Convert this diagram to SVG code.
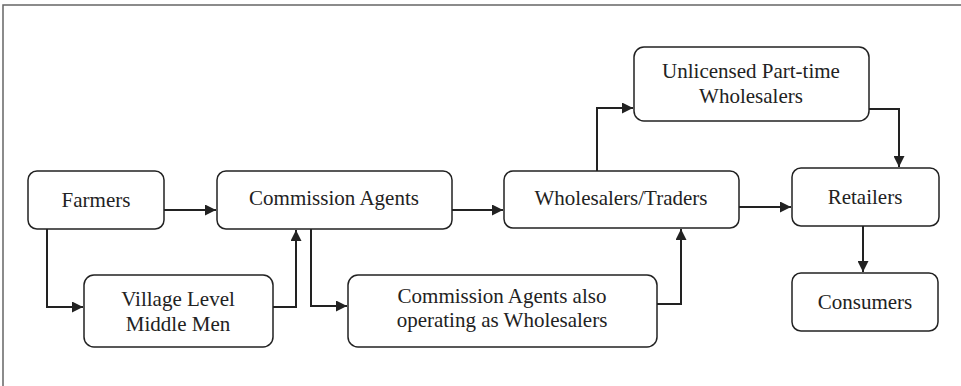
<svg xmlns="http://www.w3.org/2000/svg" width="961" height="386" viewBox="0 0 961 386">
<style>
.box{fill:#fff;stroke:#222;stroke-width:1.5}
.t{font-size:21px;fill:#222;text-anchor:middle}
.c{fill:none;stroke:#222;stroke-width:2}
</style>
<defs>
<marker id="a" viewBox="0 0 10 10" refX="10" refY="5" markerWidth="5.5" markerHeight="5.5" orient="auto" markerUnits="strokeWidth">
<path d="M0,0L10,5L0,10z" fill="#222"/>
</marker>
</defs>
<rect width="961" height="386" fill="#fff"/>
<path d="M3,386V5H961" fill="none" stroke="#666" stroke-width="1.5"/>
<g id="connectors">
<path class="c" d="M164,210H216" marker-end="url(#a)"/>
<path class="c" d="M47,229V307H83" marker-end="url(#a)"/>
<path class="c" d="M273,307H296V230" marker-end="url(#a)"/>
<path class="c" d="M311,229V306H347" marker-end="url(#a)"/>
<path class="c" d="M452,210H503" marker-end="url(#a)"/>
<path class="c" d="M657,304H681V229" marker-end="url(#a)"/>
<path class="c" d="M597,171V108H633" marker-end="url(#a)"/>
<path class="c" d="M869,109H899V167" marker-end="url(#a)"/>
<path class="c" d="M739,207H791" marker-end="url(#a)"/>
<path class="c" d="M863,226V272" marker-end="url(#a)"/>
</g>
<g font-family="Liberation Serif, DejaVu Serif, serif">
<g id="farmers"><rect class="box" x="28" y="171" width="136" height="58" rx="9"/><text class="t" x="96" y="207">Farmers</text></g>
<g id="commission-agents"><rect class="box" x="217" y="171" width="235" height="58" rx="9"/><text class="t" x="334" y="205">Commission Agents</text></g>
<g id="village"><rect class="box" x="84" y="275" width="189" height="72" rx="10"/><text class="t" x="178" y="306">Village Level</text><text class="t" x="178" y="331">Middle Men</text></g>
<g id="ca-also"><rect class="box" x="348" y="275" width="309" height="72" rx="10"/><text class="t" x="502" y="303">Commission Agents also</text><text class="t" x="502" y="327">operating as Wholesalers</text></g>
<g id="wholesalers"><rect class="box" x="504" y="171" width="235" height="57" rx="9"/><text class="t" x="621" y="205">Wholesalers/Traders</text></g>
<g id="unlicensed"><rect class="box" x="634" y="47" width="235" height="74" rx="10"/><text class="t" x="751" y="78">Unlicensed Part-time</text><text class="t" x="751" y="103">Wholesalers</text></g>
<g id="retailers"><rect class="box" x="792" y="168" width="147" height="58" rx="9"/><text class="t" x="865" y="204">Retailers</text></g>
<g id="consumers"><rect class="box" x="792" y="273" width="146" height="58" rx="9"/><text class="t" x="865" y="309">Consumers</text></g>
</g>
</svg>
